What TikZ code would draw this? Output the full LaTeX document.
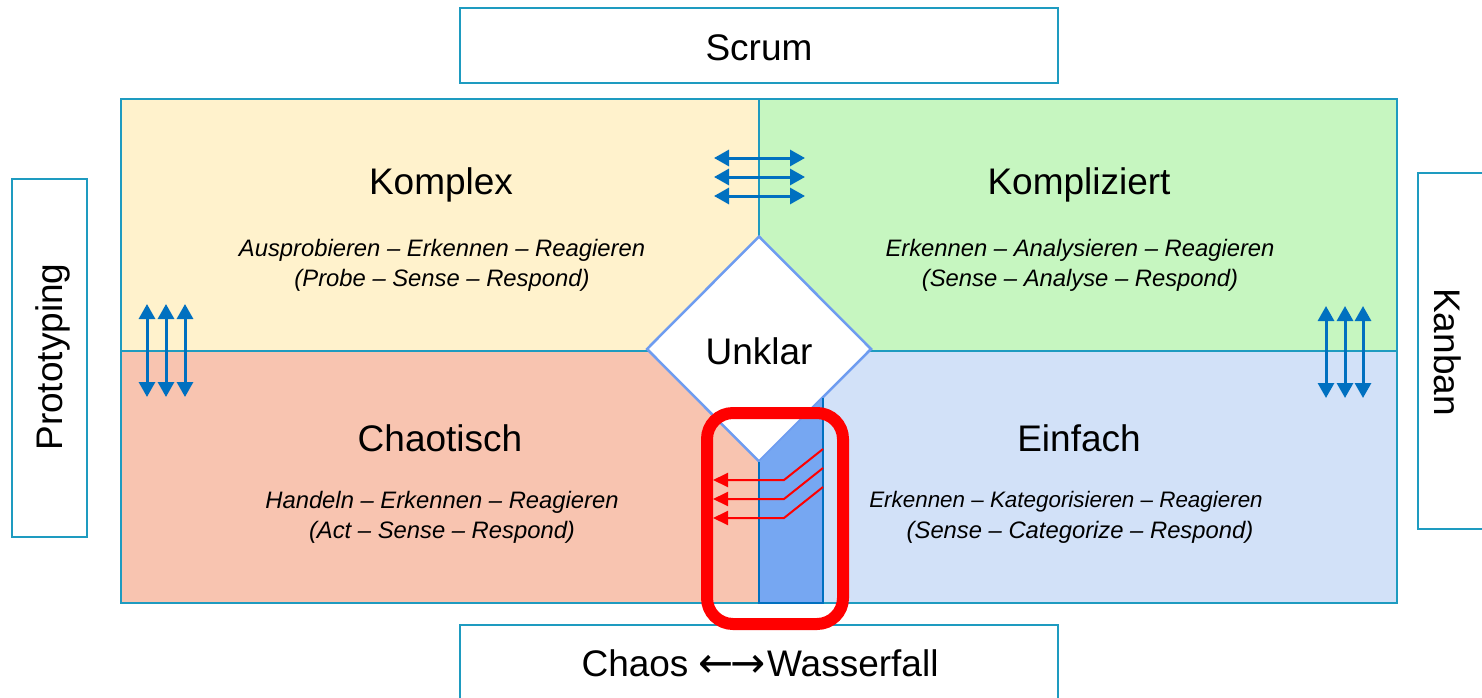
\documentclass[tikz,border=0pt]{standalone}
\usepackage{fontspec}
\setmainfont{Liberation Sans}
\newfontfamily\arrowfont{DejaVu Sans}
\usetikzlibrary{arrows.meta,shapes.geometric}
\definecolor{teal}{RGB}{30,155,192}
\definecolor{qyellow}{RGB}{255,242,204}
\definecolor{qgreen}{RGB}{198,246,192}
\definecolor{qred}{RGB}{248,196,176}
\definecolor{qblue}{RGB}{210,225,248}
\definecolor{diamondline}{RGB}{110,156,240}
\definecolor{stripfill}{RGB}{118,167,242}
\definecolor{arrowblue}{RGB}{0,112,192}
\definecolor{redmark}{RGB}{255,0,0}
\tikzset{
  bigtext/.style={font=\fontsize{37}{40}\selectfont, inner sep=0pt},
  smalltext/.style={font=\fontsize{23.8}{27}\selectfont\itshape, inner sep=0pt},
  methodbox/.style={draw=teal, line width=2.5pt, fill=white},
  dblarrow/.style={arrowblue, line width=3pt, {Triangle[length=15pt,width=16pt]}-{Triangle[length=15pt,width=16pt]}},
  redarrow/.style={redmark, line width=2pt, -{Triangle[length=15pt,width=14pt]}},
}
\begin{document}
\begin{tikzpicture}[x=1pt,y=-1pt]
\clip (0,0) rectangle (1482,698);
\fill[white] (0,0) rectangle (1482,698);
% quadrants
\fill[qyellow] (121,99) rectangle (759,351);
\fill[qgreen] (759,99) rectangle (1397,351);
\fill[qred] (121,351) rectangle (759,603);
\fill[qblue] (759,351) rectangle (1397,603);
\draw[teal, line width=2.5pt] (121,99) rectangle (1397,603);
\draw[teal, line width=2.5pt] (121,351) -- (1397,351);
\draw[teal, line width=2.5pt] (759,99) -- (759,351);
% diamond
\node[diamond, draw=diamondline, fill=white, line width=2.5pt, minimum width=225pt, minimum height=226pt, inner sep=0pt] (unklar) at (759,349) {};
\node[bigtext] (unklartext) at (759,351) {Unklar};
% strip
\fill[stripfill] (759,462) -- (823,398) -- (823,603) -- (759,603) -- cycle;
\draw[arrowblue, line width=2.5pt] (759,462) -- (759,603) -- (823,603) -- (823,398);
% method boxes
\node[methodbox, minimum width=598pt, minimum height=75pt, inner sep=0pt] (scrum) at (759,45.5) {};
\node[bigtext] (scrumtext) at (759,48) {Scrum};
\node[methodbox, minimum width=598pt, minimum height=90pt, inner sep=0pt] (chaosbox) at (759,670) {};
\node[bigtext] (chaostext) at (760,664) {Chaos {\arrowfont\fontsize{42}{44}\selectfont\raisebox{-1pt}{←\kern-3pt→}}\kern1pt Wasserfall};
\node[methodbox, minimum width=75pt, minimum height=358pt, inner sep=0pt] (proto) at (49.5,358) {};
\node[bigtext, rotate=90] (prototext) at (53,357) {Prototyping};
\node[methodbox, minimum width=90pt, minimum height=356pt, inner sep=0pt] (kanban) at (1463,351) {};
\node[bigtext, rotate=-90] (kanbantext) at (1448,352) {Kanban};
% quadrant texts
\node[bigtext] (komplex) at (441,185) {Komplex};
\node[smalltext] (komplex1) at (442,250) {Ausprobieren – Erkennen – Reagieren};
\node[smalltext] (komplex2) at (442,280) {(Probe – Sense – Respond)};
\node[bigtext] (kompliziert) at (1079,185) {Kompliziert};
\node[smalltext] (kompliziert1) at (1080,250) {Erkennen – Analysieren – Reagieren};
\node[smalltext] (kompliziert2) at (1080,280) {(Sense – Analyse – Respond)};
\node[bigtext] (chaotisch) at (440,438) {Chaotisch};
\node[smalltext] (chaotisch1) at (442,502) {Handeln – Erkennen – Reagieren};
\node[smalltext] (chaotisch2) at (442,532) {(Act – Sense – Respond)};
\node[bigtext] (einfach) at (1079,438) {Einfach};
\node[smalltext, font=\fontsize{22.4}{27}\selectfont\itshape] (einfach1) at (1066,502) {Erkennen – Kategorisieren – Reagieren};
\node[smalltext] (einfach2) at (1080,532) {(Sense – Categorize – Respond)};
% blue double arrows
\coordinate (ta1) at (714,158); \coordinate (tb1) at (805,158);
\coordinate (ta2) at (714,177); \coordinate (tb2) at (805,177);
\coordinate (ta3) at (714,196); \coordinate (tb3) at (805,196);
\draw[dblarrow] (ta1) -- (tb1);
\draw[dblarrow] (ta2) -- (tb2);
\draw[dblarrow] (ta3) -- (tb3);
\coordinate (la1) at (147,304); \coordinate (lb1) at (147,397);
\coordinate (la2) at (166,304); \coordinate (lb2) at (166,397);
\coordinate (la3) at (185,304); \coordinate (lb3) at (185,397);
\draw[dblarrow] (la1) -- (lb1);
\draw[dblarrow] (la2) -- (lb2);
\draw[dblarrow] (la3) -- (lb3);
\coordinate (ra1) at (1326,306); \coordinate (rb1) at (1326,398);
\coordinate (ra2) at (1345,306); \coordinate (rb2) at (1345,398);
\coordinate (ra3) at (1363,306); \coordinate (rb3) at (1363,398);
\draw[dblarrow] (ra1) -- (rb1);
\draw[dblarrow] (ra2) -- (rb2);
\draw[dblarrow] (ra3) -- (rb3);
% red arrows
\coordinate (rs1) at (823,449); \coordinate (rk1) at (784,480); \coordinate (re1) at (713,480);
\coordinate (rs2) at (823,468); \coordinate (rk2) at (784,499); \coordinate (re2) at (713,499);
\coordinate (rs3) at (823,487); \coordinate (rk3) at (784,518); \coordinate (re3) at (713,518);
\draw[redarrow] (rs1) -- (rk1) -- (re1);
\draw[redarrow] (rs2) -- (rk2) -- (re2);
\draw[redarrow] (rs3) -- (rk3) -- (re3);
% red highlight
\draw[redmark, line width=12pt, rounded corners=26pt] (707,413) rectangle (843,624);
\end{tikzpicture}
\end{document}
